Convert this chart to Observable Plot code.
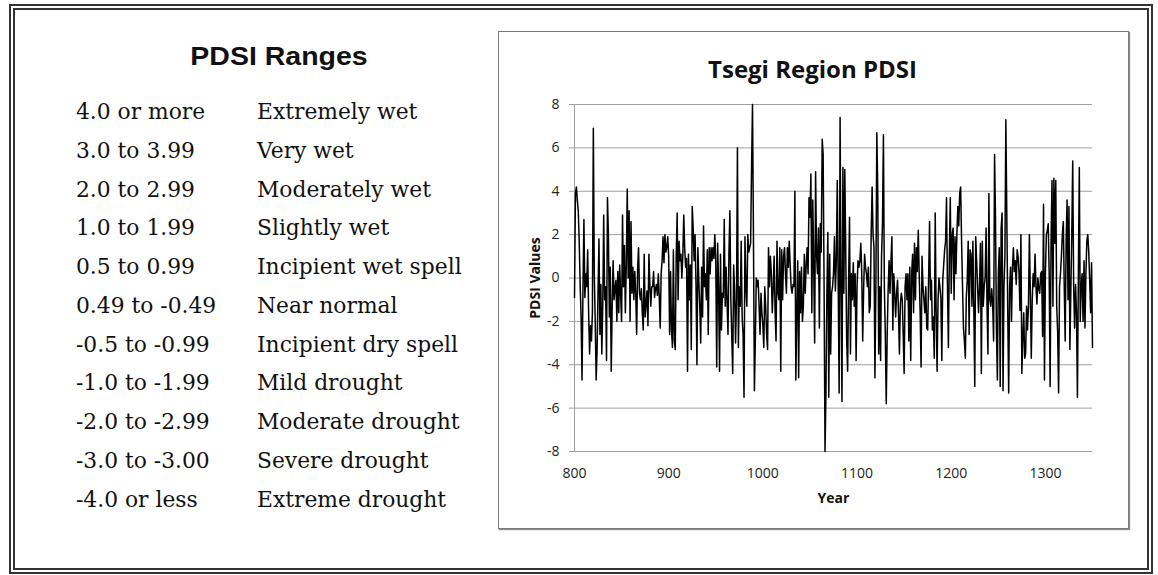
<!DOCTYPE html>
<html>
<head>
<meta charset="utf-8">
<script src="https://cdn.jsdelivr.net/npm/d3@7"></script>
<script src="https://cdn.jsdelivr.net/npm/@observablehq/plot@0.6"></script>
<style>
html, body { margin: 0; padding: 0; background: #fff; }
#page { position: relative; width: 1158px; height: 575px; overflow: hidden; background: #fff; }
#frame { position: absolute; left: 9px; top: 4px; width: 1144px; height: 570px; box-sizing: border-box; border: 6px double #333; }
#left { position: absolute; left: 0; top: 0; }
#chartbox { position: absolute; left: 498px; top: 31px; width: 631px; height: 498px; box-sizing: border-box; border: 1px solid #7a7a7a; box-shadow: 1px 1px 1px rgba(0,0,0,0.45); background: #fff; }
#chart { position: absolute; left: 498px; top: 31px; width: 630px; height: 497px; }
</style>
</head>
<body>
<div id="page">
  <div id="frame"></div>
  <svg id="left" width="498" height="575"></svg>
  <div id="chartbox"></div>
  <div id="chart"></div>
</div>
<script>
// ---- table data ----
const tableTitle = "PDSI Ranges";
const rangeLabels = ["4.0 or more", "3.0 to 3.99", "2.0 to 2.99", "1.0 to 1.99", "0.5 to 0.99", "0.49 to -0.49", "-0.5 to -0.99", "-1.0 to -1.99", "-2.0 to -2.99", "-3.0 to -3.00", "-4.0 or less"];
const rangeClasses = ["Extremely wet", "Very wet", "Moderately wet", "Slightly wet", "Incipient wet spell", "Near normal", "Incipient dry spell", "Mild drought", "Moderate drought", "Severe drought", "Extreme drought"];

// ---- chart data ----
const chartTitle = "Tsegi Region PDSI";
const xLabel = "Year";
const yLabel = "PDSI Values";
const startYear = 800;
const xTicks = [800, 900, 1000, 1100, 1200, 1300];
const yTicks = [-8, -6, -4, -2, 0, 2, 4, 6, 8];
const pdsi = [
  -0.9, 3.9, 4.2, 3.6, 3.1, 1.7, -0.3, -1.8, -4.7, -0.5,
  2.7, -0.9, 0.2, -0.4, 1.3, -1.6, -3.5, -2.2, -2.9, -1.6,
  6.9, 0.2, -2.0, -4.7, -3.3, -0.6, 1.8, -2.6, -0.3, -3.5,
  -1.3, 2.9, -1.0, -0.4, -3.8, 3.7, 2.0, -1.8, 0.5, -4.3,
  -1.3, 0.8, -1.0, -0.5, -0.1, -2.0, 0.3, -1.6, 0.6, -0.8,
  -2.0, 2.9, -0.4, 1.5, -1.6, 0.6, 4.1, 0.0, 3.1, -2.0,
  2.6, -0.7, 0.5, -1.0, 0.3, -0.7, -2.6, 0.4, 1.4, -0.7,
  -1.0, -0.5, -1.6, -2.4, 1.1, -1.8, -1.2, -0.6, -2.2, 1.1,
  -0.3, -1.3, -0.4, -0.4, 0.3, -0.9, -0.5, -0.3, -0.8, 0.2,
  -0.9, -2.3, 0.2, 0.8, 1.9, 0.7, 2.0, 1.2, 1.4, 1.9,
  1.0, -2.6, 0.3, -2.4, -3.2, 1.3, -2.9, -3.3, 1.0, 3.0,
  -1.0, 1.7, 0.8, 1.1, 0.0, 1.0, 2.9, 1.4, 0.5, 0.9,
  -4.3, 1.1, -1.0, 0.6, -3.3, 3.3, 2.3, 0.8, 2.0, -0.3,
  -4.0, 1.4, -0.1, -1.3, -3.0, 0.5, -1.8, 2.4, -0.4, 0.2,
  -1.0, 1.3, -2.6, 1.4, 0.2, 1.4, 0.8, 1.4, 0.9, 2.0,
  0.8, -4.1, 1.6, -0.4, -4.3, 1.1, -2.4, -0.7, -0.9, 2.7,
  -1.3, 0.5, -1.2, -2.6, 1.2, 3.1, -1.0, -2.7, -4.4, 0.6,
  -0.6, -3.0, -1.0, 6.0, -3.2, -0.4, -1.3, 1.7, -1.8, -2.6,
  -5.5, 1.9, -0.4, -1.3, 2.0, 1.2, 1.4, 1.6, 5.1, 8.0,
  2.0, -5.2, -2.9, 0.0, -0.4, -0.1, -1.3, -2.6, -0.7, -1.6,
  -2.2, -3.2, -0.4, -1.3, -2.6, -3.3, 1.4, -0.4, 1.0, 0.2,
  -1.6, -0.4, 1.0, -1.6, -2.9, 1.7, -0.7, -1.0, 1.4, -4.3,
  1.3, -1.0, 1.0, 1.4, 0.2, -0.7, 1.4, 0.5, 1.7, 0.6,
  -0.4, -0.7, -0.3, -0.4, 4.0, -4.7, -1.6, 0.8, -4.6, 0.3,
  -1.6, 0.5, -2.0, -1.3, 1.1, -0.7, 0.6, 1.4, 0.2, 3.7,
  2.8, 4.8, -1.6, 3.6, 0.5, -3.0, 4.9, 1.1, 0.2, 2.3,
  -2.3, 2.5, 1.2, 6.4, 5.7, -0.3, -8.0, -5.3, -0.6, 2.1,
  -5.5, 1.1, -3.5, -0.7, -0.4, 0.2, 1.9, -0.6, 0.8, 4.5,
  -0.4, -5.3, 7.4, -0.6, -5.7, 5.1, -0.7, 5.0, 1.2, -2.9,
  -4.3, -0.4, 2.8, -3.5, 0.2, -1.0, 0.7, -1.3, 0.2, -3.8,
  -0.4, 0.8, 0.5, 0.8, 1.6, 0.2, -2.9, -0.5, 1.1, 0.5,
  0.2, -0.4, 0.5, -1.6, -1.3, 2.0, 4.2, 2.0, 1.4, -4.6,
  -0.4, 6.7, 4.0, -3.5, -0.4, -3.8, 1.0, 2.5, 6.6, -0.4,
  -2.6, -5.8, -2.6, -0.6, 0.8, -0.7, 0.8, 1.9, -2.4, 0.2,
  -0.7, -1.8, -0.7, -0.1, -1.6, -3.5, -1.2, -0.7, -1.0, -2.6,
  -4.4, -0.4, 0.2, -1.0, 0.2, -2.9, 0.5, -3.8, 0.2, 1.1,
  -1.6, 1.6, -1.0, 1.4, 0.3, 2.2, 0.2, -1.6, -4.1, 1.0,
  -0.4, -1.0, -1.6, -0.4, -2.3, -2.4, 0.0, 2.6, -1.0, -0.1,
  -2.4, -1.8, -3.7, 3.0, -1.6, -4.3, -1.0, 0.0, -0.4, -0.9,
  -3.8, -0.1, 0.6, 1.3, 1.7, 3.7, -0.4, -3.2, 1.1, 3.7,
  -0.7, 2.0, 2.3, -1.0, 1.9, 0.2, 2.0, 3.3, 2.4, 3.9,
  4.2, 1.7, -0.4, -2.3, -2.9, -3.7, -0.9, -0.1, 1.7, -2.6,
  1.3, 1.1, -1.3, 1.7, -1.5, -5.0, 1.9, 0.8, -0.4, -1.6,
  -0.4, 1.6, -4.4, 1.7, -1.3, -0.4, 0.0, 2.3, -1.3, -3.5,
  3.9, -1.0, -1.3, -0.5, -1.2, -2.9, 5.7, 2.8, -2.4, -4.7,
  0.2, 1.4, -5.0, 2.3, 3.0, -5.2, -0.4, 1.0, 7.3, 3.0,
  -1.5, -5.3, -0.4, 0.5, -2.0, 0.5, 1.4, 0.3, 0.8, -0.3,
  1.3, 1.0, 0.2, -1.5, 2.0, -4.4, -2.8, -1.6, -3.7, -3.5,
  -1.3, -2.4, -1.3, 2.0, -0.7, -3.7, -1.0, 0.2, -0.4, 1.1,
  -0.4, -1.2, 0.0, -0.5, -0.7, 0.2, 0.3, -2.7, 3.4, -4.7,
  0.2, 2.0, 2.2, 2.5, 0.2, -5.0, 1.7, 4.5, -1.3, 4.6,
  1.6, 4.5, -1.3, -2.5, -5.3, -0.4, 0.2, 1.0, 2.0, 2.6,
  -0.4, -2.9, 1.7, 3.6, -1.0, 3.3, -3.3, -0.6, 2.0, 5.4,
  -0.4, -2.3, -0.3, -1.6, -5.5, 0.2, 5.1, -2.0, -0.4, 0.2,
  -2.0, 0.8, -2.3, 0.2, 1.7, 2.0, 1.2, -0.1, -1.6, 0.7,
  -3.2
];

// ---- left panel: ranges table ----
const left = d3.select("#left");
left.append("text")
  .attr("transform", "translate(279,65) scale(1.14,1)")
  .attr("text-anchor", "middle")
  .attr("fill", "#111")
  .style("font-family", "'Liberation Sans', Arial, sans-serif")
  .style("font-weight", "bold")
  .style("font-size", "25px")
  .text(tableTitle);
const rowY = i => 119 + i * 38.77;
left.selectAll("text.rng").data(rangeLabels).join("text")
  .attr("class", "rng")
  .attr("x", 76).attr("y", (d, i) => rowY(i))
  .attr("fill", "#111")
  .style("font-family", "'DejaVu Serif', serif")
  .style("font-size", "21.8px")
  .text(d => d);
left.selectAll("text.cls").data(rangeClasses).join("text")
  .attr("class", "cls")
  .attr("x", 257).attr("y", (d, i) => rowY(i))
  .attr("fill", "#111")
  .style("font-family", "'DejaVu Serif', serif")
  .style("font-size", "21.8px")
  .text(d => d);

// ---- right panel: Plot line chart ----
const data = pdsi.map((v, i) => ({year: startYear + i, pdsi: v}));
const fmt = d => String(d);
const chart = Plot.plot({
  width: 630,
  height: 497,
  marginLeft: 76,
  marginRight: 36,
  marginTop: 73,
  marginBottom: 77,
  style: {background: "transparent", fontFamily: "'Open Sans', sans-serif", fontSize: "14px", color: "#222", overflow: "visible"},
  x: {domain: [800, 1350]},
  y: {domain: [-8, 8]},
  marks: [
    Plot.ruleY(yTicks, {stroke: "#a0a0a0", strokeWidth: 1}),
    Plot.ruleX([startYear], {stroke: "#a0a0a0", strokeWidth: 1}),
    Plot.axisY({ticks: yTicks, tickFormat: fmt, tickSize: 5, tickPadding: 10, stroke: "#a0a0a0", fill: "#222", fontSize: 14, label: null}),
    Plot.axisX({ticks: xTicks, tickFormat: fmt, tickSize: 0, tickPadding: 17, fill: "#222", fontSize: 14, label: null}),
    Plot.line(data, {x: "year", y: "pdsi", stroke: "#000", strokeWidth: 1.5}),
    Plot.text([chartTitle], {text: d => d, frameAnchor: "top", lineAnchor: "bottom", dx: -21, dy: -27, fontSize: 24, fontWeight: "bold", fill: "#111"}),
    Plot.text([xLabel], {text: d => d, frameAnchor: "bottom", lineAnchor: "bottom", dy: 51, fontSize: 14, fontWeight: "bold", fill: "#111"}),
    Plot.text([yLabel], {text: d => d, frameAnchor: "left", textAnchor: "middle", lineAnchor: "bottom", rotate: -90, dx: -35, fontSize: 14, fontWeight: "bold", fill: "#111"})
  ]
});
document.getElementById("chart").appendChild(chart);
</script>
</body>
</html>
